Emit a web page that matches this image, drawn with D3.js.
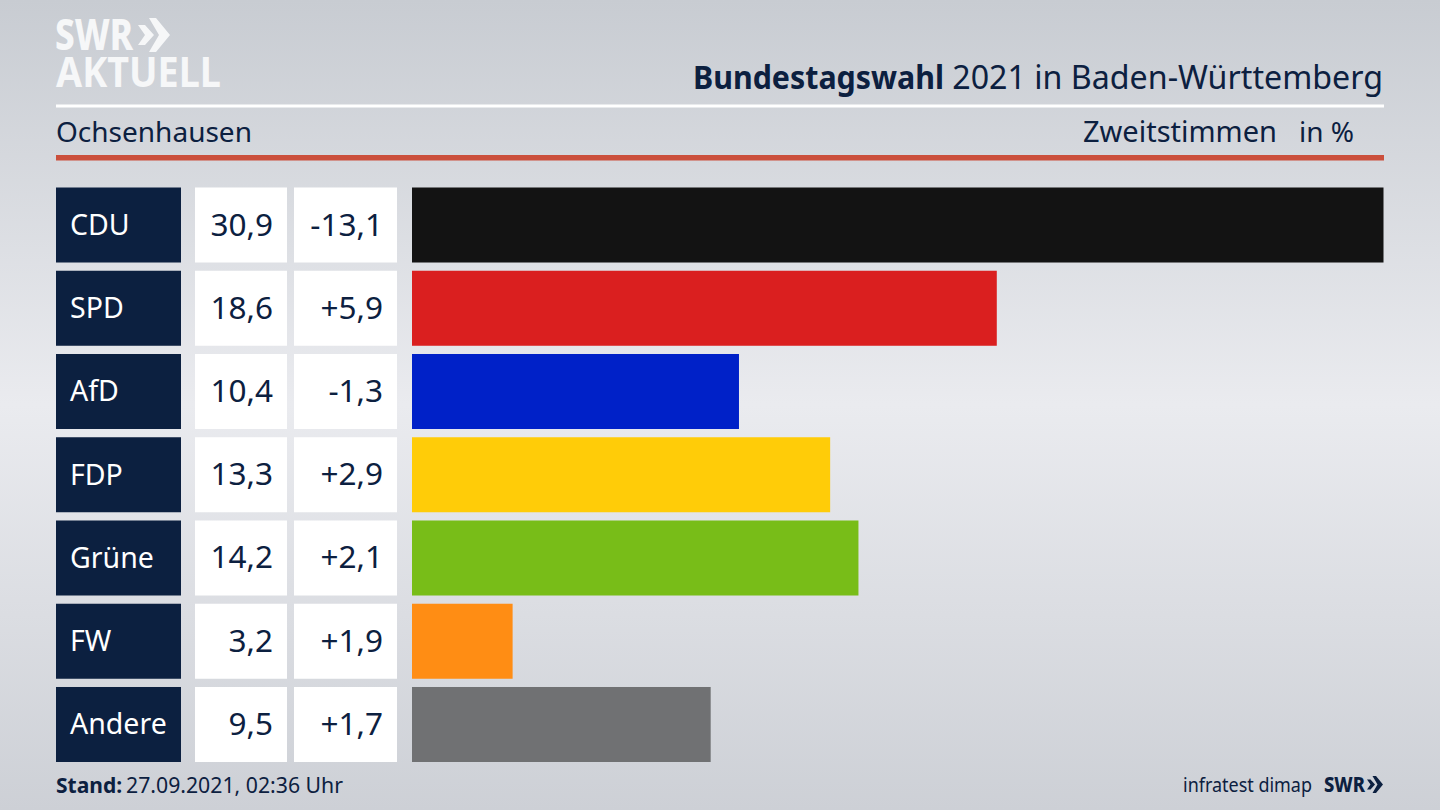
<!DOCTYPE html>
<html>
<head>
<meta charset="utf-8">
<script src="https://cdnjs.cloudflare.com/ajax/libs/d3/7.8.5/d3.min.js"></script>
<style>
  html, body { margin: 0; padding: 0; overflow: hidden; }
  svg { display: block; }
  text { font-family: "Noto Sans", sans-serif; fill: #0c2040; }
</style>
</head>
<body>
<div id="chart"></div>
<script>
const parties = ["CDU", "SPD", "AfD", "FDP", "Grüne", "FW", "Andere"];
const shares = [30.9, 18.6, 10.4, 13.3, 14.2, 3.2, 9.5];
const changes = ["-13,1", "+5,9", "-1,3", "+2,9", "+2,1", "+1,9", "+1,7"];
const barColors = ["#131313", "#da1f1f", "#0021c8", "#ffcc08", "#78bd18", "#ff8d14", "#707173"];

const width = 1440;
const height = 810;
const navy = "#0c2040";

const svg = d3.select("#chart").append("svg")
  .attr("width", width)
  .attr("height", height);

// background fades from grey to light in the middle and back
const defs = svg.append("defs");
const bg = defs.append("linearGradient")
  .attr("id", "bg").attr("x1", 0).attr("y1", 0).attr("x2", 0).attr("y2", 1);
bg.append("stop").attr("offset", "0%").attr("stop-color", "#c8ccd2");
bg.append("stop").attr("offset", "50%").attr("stop-color", "#eaebef");
bg.append("stop").attr("offset", "100%").attr("stop-color", "#cdd0d6");
svg.append("rect").attr("width", width).attr("height", height).attr("fill", "url(#bg)");

// scales
const x = d3.scaleLinear().domain([0, d3.max(shares)]).range([412, 1383.5]);
const y = d3.scaleBand().domain(parties).range([187.5, 762]).paddingInner(0.099);

// rows
const rows = svg.selectAll(".row")
  .data(parties)
  .enter()
  .append("g")
  .attr("class", "row")
  .attr("transform", d => `translate(0, ${y(d)})`);

rows.append("rect")
  .attr("x", 56).attr("width", 125).attr("height", y.bandwidth())
  .attr("fill", navy);
rows.append("rect")
  .attr("x", 195).attr("width", 92).attr("height", y.bandwidth())
  .attr("fill", "#fff");
rows.append("rect")
  .attr("x", 294).attr("width", 103).attr("height", y.bandwidth())
  .attr("fill", "#fff");
rows.append("rect")
  .attr("x", x(0))
  .attr("width", (d, i) => x(shares[i]) - x(0))
  .attr("height", y.bandwidth())
  .attr("fill", (d, i) => barColors[i]);

rows.append("text")
  .attr("x", 70).attr("y", 47.5)
  .attr("font-size", 28.5)
  .style("fill", "#fff")
  .text(d => d);
rows.append("text")
  .attr("x", 273).attr("y", 48)
  .attr("text-anchor", "end")
  .attr("font-size", 31.5)
  .text((d, i) => shares[i].toFixed(1).replace(".", ","));
rows.append("text")
  .attr("x", 383).attr("y", 48)
  .attr("text-anchor", "end")
  .attr("font-size", 31.5)
  .text((d, i) => changes[i]);

// header lines
svg.append("rect").attr("x", 56).attr("y", 104.5).attr("width", 1328).attr("height", 3).attr("fill", "#fff");
svg.append("rect").attr("x", 56).attr("y", 155).attr("width", 1328).attr("height", 5.5).attr("fill", "#cb4f3c");

// header text
svg.append("text")
  .attr("x", 693).attr("y", 89)
  .attr("font-size", 32).attr("font-weight", 700)
  .attr("textLength", 251).attr("lengthAdjust", "spacingAndGlyphs")
  .text("Bundestagswahl");
svg.append("text")
  .attr("x", 1383).attr("y", 89)
  .attr("text-anchor", "end")
  .attr("font-size", 32.2)
  .text("2021 in Baden-Württemberg");

svg.append("text").attr("x", 56).attr("y", 142).attr("font-size", 28).text("Ochsenhausen");
svg.append("text").attr("x", 1277).attr("y", 142).attr("text-anchor", "end").attr("font-size", 29).text("Zweitstimmen");
svg.append("text").attr("x", 1354).attr("y", 142).attr("text-anchor", "end").attr("font-size", 28).text("in %");

// logo arrows, small one then big one, drawn at the top left size
function chevrons(g, fill) {
  g.append("path").attr("d", "M0 7 L7 7 L16 17 L7 27 L0 27 L7 17 Z").attr("fill", fill);
  g.append("path").attr("d", "M11 0 L18 0 L32 17 L18 34 L11 34 L21 17 Z").attr("fill", fill);
}

// logo top left
svg.append("text")
  .attr("x", 55).attr("y", 50).attr("font-size", 43).attr("font-weight", 800)
  .attr("textLength", 78).attr("lengthAdjust", "spacingAndGlyphs")
  .style("fill", "#f6f7f8").text("SWR");
chevrons(svg.append("g").attr("transform", "translate(138, 18)"), "#f6f7f8");
svg.append("text")
  .attr("x", 56).attr("y", 87).attr("font-size", 42).attr("font-weight", 700)
  .attr("textLength", 165).attr("lengthAdjust", "spacingAndGlyphs")
  .style("fill", "#f6f7f8").text("AKTUELL");

// footer
svg.append("text").attr("x", 56).attr("y", 793).attr("font-size", 21).attr("font-weight", 700).text("Stand:");
svg.append("text").attr("x", 126).attr("y", 793).attr("font-size", 21)
  .attr("textLength", 217).attr("lengthAdjust", "spacingAndGlyphs")
  .text("27.09.2021, 02:36 Uhr");

svg.append("text").attr("x", 1183).attr("y", 792).attr("font-size", 20)
  .attr("textLength", 129).attr("lengthAdjust", "spacingAndGlyphs")
  .text("infratest dimap");
svg.append("text").attr("x", 1324).attr("y", 792).attr("font-size", 21).attr("font-weight", 800)
  .attr("textLength", 41).attr("lengthAdjust", "spacingAndGlyphs").text("SWR");
chevrons(svg.append("g").attr("transform", "translate(1367, 776) scale(0.5)"), navy);
</script>
</body>
</html>
